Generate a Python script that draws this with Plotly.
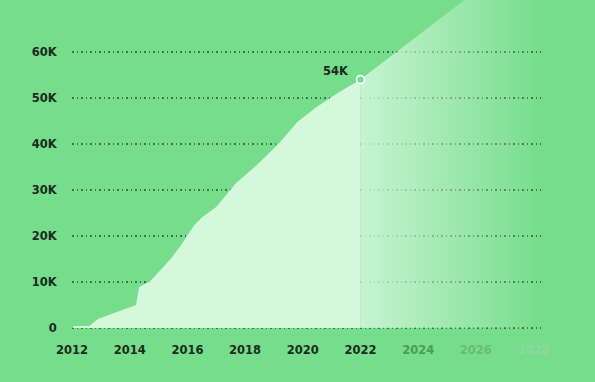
import plotly.graph_objects as go

# ---- data ----
years = [2012.0, 2012.07, 2012.6, 2012.9, 2014.22, 2014.33, 2014.67, 2014.85,
         2015.47, 2015.78, 2016.24, 2016.51, 2017.0, 2017.69, 2018.49, 2019.19,
         2019.81, 2020.47, 2021.27, 2022.0]
values = [0, 430, 430, 1960, 5000, 8900, 10000, 11100, 15400, 18000, 22400,
          24100, 26300, 31500, 35900, 40200, 44800, 48000, 51300, 54000]

proj_years = [2022.0, 2028.3]
proj_values = [54000, 84200]

x_tick_vals = [2012, 2014, 2016, 2018, 2020, 2022, 2024, 2026, 2028]
x_tick_labels = ["2012", "2014", "2016", "2018", "2020", "2022", "2024", "2026", "2028"]
x_tick_colors = ["#1c2a1f"] * 6 + ["#4f9a5e", "#6cbb7e", "#8fd7a0"]

y_tick_vals = [0, 10000, 20000, 30000, 40000, 50000, 60000]
y_tick_labels = ["0", "10K", "20K", "30K", "40K", "50K", "60K"]

last_label = "54K"

BG = "#76DD8C"
LIGHT = "#D5F8DD"
FONT = "DejaVu Sans"

fig = go.Figure()

# projection (gradient fade)
fig.add_trace(go.Scatter(
    x=proj_years, y=proj_values, mode="lines", line=dict(width=0),
    fill="tozeroy",
    fillgradient=dict(type="horizontal",
                      colorscale=[[0, "rgba(213,248,221,0.85)"],
                                  [1, "rgba(213,248,221,0)"]],
                      start=2022.0, stop=2028.26),
    hoverinfo="skip", showlegend=False,
))

# actual area
fig.add_trace(go.Scatter(
    x=years, y=values, mode="lines", line=dict(width=0, color=LIGHT),
    fill="tozeroy", fillcolor=LIGHT, hoverinfo="skip", showlegend=False,
))

# last point marker
fig.add_trace(go.Scatter(
    x=[years[-1]], y=[values[-1]], mode="markers",
    marker=dict(size=8, color=BG, line=dict(color="white", width=1.6)),
    hoverinfo="skip", showlegend=False,
))

fig.add_annotation(
    x=years[-1], y=values[-1], text=f"<b>{last_label}</b>", showarrow=False,
    xanchor="right", yanchor="middle", xshift=-9, yshift=9,
    font=dict(family=FONT, size=11.5, color="#1c2a1f"),
)

ticktext = [f'<span style="color:{c}"><b>{t}</b></span>'
            for t, c in zip(x_tick_labels, x_tick_colors)]

fig.update_layout(
    width=595, height=382,
    paper_bgcolor=BG, plot_bgcolor=BG,
    margin=dict(l=72, r=54, t=0, b=50),
    font=dict(family=FONT, size=11.5, color="#1c2a1f"),
    xaxis=dict(
        range=[2012.0, 2028.26], showgrid=False, zeroline=False,
        tickvals=x_tick_vals, ticktext=ticktext,
        ticks="outside", ticklen=7, tickcolor="rgba(0,0,0,0)",
        showline=False, fixedrange=True,
    ),
    yaxis=dict(
        range=[-870, 71304], showgrid=True,
        gridcolor="rgba(40,70,48,0.7)", gridwidth=1.5, griddash="1.5px,3px",
        zeroline=False,
        tickvals=y_tick_vals, ticktext=[f"<b>{t}</b>" for t in y_tick_labels],
        ticks="outside", ticklen=12, tickcolor="rgba(0,0,0,0)",
        showline=False, fixedrange=True,
    ),
)

fig.write_html("out.html", config={"displayModeBar": False},
               post_script="document.body.style.margin='0';")
